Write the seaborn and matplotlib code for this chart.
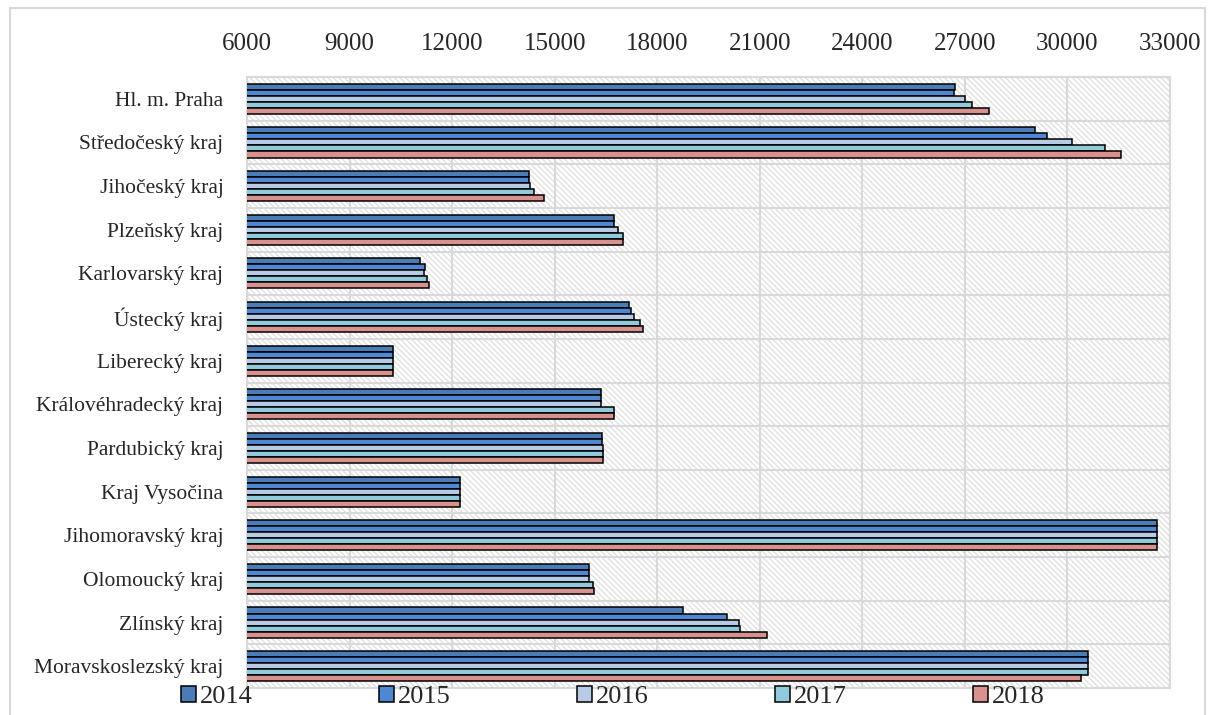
import numpy as np
import pandas as pd
import matplotlib
matplotlib.use("Agg")
import matplotlib.pyplot as plt
from matplotlib.patches import Rectangle
from matplotlib.ticker import FixedLocator
import seaborn as sns

kraje = ["Hl. m. Praha", "Středočeský kraj", "Jihočeský kraj", "Plzeňský kraj",
         "Karlovarský kraj", "Ústecký kraj", "Liberecký kraj",
         "Královéhradecký kraj", "Pardubický kraj", "Kraj Vysočina",
         "Jihomoravský kraj", "Olomoucký kraj", "Zlínský kraj",
         "Moravskoslezský kraj"]

roky = ["2014", "2015", "2016", "2017", "2018"]

r2014 = [26700, 29040, 14250, 16750, 11060, 17180, 10280, 16350, 16390, 12230, 32620, 16000, 18760, 30600]
r2015 = [26680, 29400, 14240, 16740, 11210, 17230, 10280, 16350, 16390, 12230, 32620, 16000, 20030, 30600]
r2016 = [27000, 30120, 14280, 16850, 11190, 17330, 10280, 16350, 16400, 12230, 32620, 15990, 20380, 30600]
r2017 = [27200, 31100, 14390, 17000, 11270, 17510, 10280, 16730, 16400, 12230, 32620, 16130, 20430, 30600]
r2018 = [27700, 31560, 14690, 17010, 11330, 17590, 10280, 16730, 16400, 12230, 32620, 16150, 21210, 30400]

x_ticks = [6000, 9000, 12000, 15000, 18000, 21000, 24000, 27000, 30000, 33000]

barvy = ["#4a7cb8", "#4e88d4", "#b7cbe6", "#8fcbdc", "#d9918d"]

df = pd.DataFrame({
    "kraj": kraje * 5,
    "rok": np.repeat(roky, len(kraje)),
    "hodnota": r2014 + r2015 + r2016 + r2017 + r2018,
})

sns.set_style("white")
plt.rcParams["font.family"] = ["Liberation Serif", "DejaVu Serif"]
plt.rcParams["hatch.color"] = "#dedede"
plt.rcParams["hatch.linewidth"] = 0.9

fig = plt.figure(figsize=(12.09, 7.15), dpi=100)
ax = fig.add_axes([247 / 1209, 1 - 688 / 715, (1170 - 247) / 1209, (688 - 77) / 715])

# hatched plot area background
ax.add_patch(Rectangle((0, 0), 1, 1, transform=ax.transAxes, facecolor="white",
                       edgecolor="#dedede", hatch="\\\\\\\\\\\\", lw=0, zorder=0))

sns.barplot(data=df, x="hodnota", y="kraj", hue="rok", hue_order=roky,
            orient="h", palette=barvy, saturation=1, width=0.69,
            edgecolor="black", linewidth=1.1, ax=ax, zorder=3)

ax.set_xlim(6000, 33000)
ax.set_ylim(len(kraje) - 0.5, -0.5)
ax.set_xticks(x_ticks)
ax.xaxis.tick_top()
ax.tick_params(axis="x", length=0, pad=16, labelsize=18)
ax.tick_params(axis="y", length=0, pad=17, labelsize=15.5)
ax.yaxis.set_minor_locator(FixedLocator(np.arange(-0.5, len(kraje), 1)))
ax.tick_params(axis="y", which="minor", length=0)
ax.grid(axis="x", color="#d9d9d9", lw=1.5, zorder=1)
ax.grid(axis="y", which="minor", color="#d9d9d9", lw=1.5, zorder=1)
ax.set_axisbelow(True)
ax.set_xlabel("")
ax.set_ylabel("")
for s in ax.spines.values():
    s.set_color("#d9d9d9")
    s.set_linewidth(1.5)

handles, labels = ax.get_legend_handles_labels()
ax.legend(handles, labels, loc="center", bbox_to_anchor=(613 / 1209, 1 - 697 / 715),
          bbox_transform=fig.transFigure, ncol=5, frameon=False, fontsize=19,
          handlelength=0.55, handleheight=0.55, handletextpad=0.15,
          columnspacing=4.8, borderpad=0)

# outer chart border
fig.patches.append(Rectangle((10 / 1209, -0.1), (1205 - 10) / 1209, 1.1 - 8 / 715,
                             transform=fig.transFigure, fill=False,
                             edgecolor="#d9d9d9", lw=1.5))

fig.savefig("out.png", dpi=100)
